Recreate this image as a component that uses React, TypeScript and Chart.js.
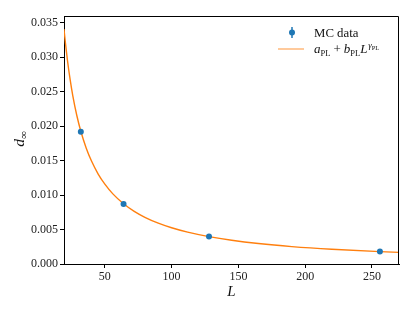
import React, { useEffect, useRef } from 'react';
import { Chart, registerables } from 'chart.js';
Chart.register(...registerables);

// Monte Carlo data
const L_DATA = [32, 64, 128, 256];
const D_DATA = [0.0192, 0.0087, 0.004, 0.0018];
const D_ERR = [0.0002, 0.0001, 0.00005, 0.00003];

// Fitted curve a_PL + b_PL L^gamma_PL
const FIT_L = [19.4, 20.5, 22, 24, 26, 29, 32, 36, 40, 45, 50, 56, 64, 72, 80, 90, 100, 112, 128, 145, 165, 190, 220, 256, 270.3];
const FIT_D = [0.03409, 0.03202, 0.02954, 0.02675, 0.02442, 0.02156, 0.01927, 0.01685, 0.01494, 0.01306, 0.01159, 0.01018, 0.008744, 0.007645, 0.00678, 0.005928, 0.005257, 0.004619, 0.003968, 0.003443, 0.002971, 0.002529, 0.00214, 0.0018, 0.001692];

const X_TICKS = [50, 100, 150, 200, 250];
const Y_TICKS = [0, 0.005, 0.01, 0.015, 0.02, 0.025, 0.03, 0.035];

const SERIF = '"Liberation Serif", "DejaVu Serif", serif';
const BLUE = '#1f77b4';
const ORANGE = '#ff7f0e';

type Part = { t: string; italic?: boolean; size: number; dy?: number; gap?: number };

function drawParts(ctx: CanvasRenderingContext2D, parts: Part[], x: number, y: number) {
  let cx = x;
  for (const p of parts) {
    ctx.font = `${p.italic ? 'italic ' : ''}${p.size}px ${SERIF}`;
    ctx.fillText(p.t, cx, y + (p.dy || 0));
    cx += ctx.measureText(p.t).width + (p.gap || 0);
  }
  return cx - x;
}

function measureParts(ctx: CanvasRenderingContext2D, parts: Part[]) {
  let w = 0;
  for (const p of parts) {
    ctx.font = `${p.italic ? 'italic ' : ''}${p.size}px ${SERIF}`;
    w += ctx.measureText(p.t).width + (p.gap || 0);
  }
  return w;
}

const decorPlugin = {
  id: 'decor',
  beforeDatasetsDraw(chart: any) {
    const ctx = chart.ctx as CanvasRenderingContext2D;
    const xs = chart.scales.x;
    const ys = chart.scales.y;
    ctx.save();
    ctx.strokeStyle = BLUE;
    ctx.lineWidth = 1.5;
    L_DATA.forEach((l, i) => {
      const px = xs.getPixelForValue(l);
      ctx.beginPath();
      ctx.moveTo(px, ys.getPixelForValue(D_DATA[i] - D_ERR[i]));
      ctx.lineTo(px, ys.getPixelForValue(D_DATA[i] + D_ERR[i]));
      ctx.stroke();
    });
    ctx.restore();
  },
  afterDraw(chart: any) {
    const ctx = chart.ctx as CanvasRenderingContext2D;
    const a = chart.chartArea;
    ctx.save();
    // top and right spines
    ctx.strokeStyle = '#000';
    ctx.lineWidth = 1;
    ctx.beginPath();
    ctx.moveTo(a.left, a.top + 0.5);
    ctx.lineTo(a.right - 0.5, a.top + 0.5);
    ctx.lineTo(a.right - 0.5, a.bottom);
    ctx.stroke();

    // legend
    ctx.strokeStyle = BLUE;
    ctx.lineWidth = 1.5;
    ctx.beginPath();
    ctx.moveTo(292, 27);
    ctx.lineTo(292, 38);
    ctx.stroke();
    ctx.fillStyle = BLUE;
    ctx.beginPath();
    ctx.arc(292, 32.5, 3, 0, Math.PI * 2);
    ctx.fill();

    ctx.strokeStyle = 'rgba(255,127,14,0.55)';
    ctx.lineWidth = 1.5;
    ctx.beginPath();
    ctx.moveTo(278, 49);
    ctx.lineTo(304, 49);
    ctx.stroke();

    ctx.fillStyle = '#111';
    ctx.textBaseline = 'alphabetic';
    ctx.textAlign = 'left';
    ctx.font = `12.8px ${SERIF}`;
    ctx.fillText('MC data', 314, 37);

    drawParts(ctx, [
      { t: 'a', italic: true, size: 13 },
      { t: 'PL', size: 8.5, dy: 2.5, gap: 3 },
      { t: '+', size: 13, gap: 3 },
      { t: 'b', italic: true, size: 13 },
      { t: 'PL', size: 8.5, dy: 2.5 },
      { t: 'L', italic: true, size: 13, gap: 0.8 },
      { t: 'γ', italic: true, size: 9, dy: -5 },
      { t: 'PL', size: 6.5, dy: -3.5 },
    ], 314, 53);

    // x axis title
    ctx.font = `italic 15px ${SERIF}`;
    ctx.textAlign = 'center';
    ctx.fillText('L', (a.left + a.right) / 2, 296);

    // y axis title
    ctx.translate(24, 139);
    ctx.rotate(-Math.PI / 2);
    ctx.textAlign = 'left';
    const yParts: Part[] = [
      { t: 'd', italic: true, size: 15.5 },
      { t: '∞', size: 11, dy: 3 },
    ];
    const w = measureParts(ctx, yParts);
    drawParts(ctx, yParts, -w / 2, 0);
    ctx.restore();
  },
};

export default function App() {
  const ref = useRef<HTMLCanvasElement | null>(null);
  useEffect(() => {
    if (!ref.current) return;
    const tickFont = { family: SERIF, size: 12 };
    const chart = new Chart(ref.current, {
      type: 'scatter',
      data: {
        datasets: [
          {
            label: 'MC data',
            data: L_DATA.map((l, i) => ({ x: l, y: D_DATA[i] })),
            backgroundColor: BLUE,
            borderColor: BLUE,
            pointRadius: 3,
            pointHoverRadius: 3,
            borderWidth: 0,
            order: 0,
          },
          {
            label: 'fit',
            data: FIT_L.map((l, i) => ({ x: l, y: FIT_D[i] })),
            showLine: true,
            borderColor: ORANGE,
            borderWidth: 1.4,
            pointRadius: 0,
            cubicInterpolationMode: 'monotone',
            order: 1,
          } as any,
        ],
      },
      options: {
        responsive: false,
        animation: false,
        events: [],
        layout: { padding: { top: 16, right: 16, left: 0, bottom: 0 } },
        plugins: { legend: { display: false }, tooltip: { enabled: false } },
        scales: {
          x: {
            type: 'linear',
            min: 19.4,
            max: 270.3,
            afterBuildTicks: (s: any) => { s.ticks = X_TICKS.map((v) => ({ value: v })); },
            afterFit: (s: any) => { s.height = 47; },
            ticks: {
              font: tickFont,
              color: '#222',
              padding: 2,
              maxRotation: 0,
              autoSkip: false,
              callback: (v: any) => String(v),
            },
            grid: { drawOnChartArea: false, drawTicks: true, tickLength: 4, color: '#000' },
            border: { display: true, color: '#000', width: 1 },
          },
          y: {
            type: 'linear',
            min: 0,
            max: 0.036,
            afterBuildTicks: (s: any) => { s.ticks = Y_TICKS.map((v) => ({ value: v })); },
            afterFit: (s: any) => { s.width = 64; },
            ticks: {
              font: tickFont,
              color: '#222',
              padding: 2,
              autoSkip: false,
              callback: (v: any) => Number(v).toFixed(3),
            },
            grid: { drawOnChartArea: false, drawTicks: true, tickLength: 4, color: '#000' },
            border: { display: true, color: '#000', width: 1 },
          },
        },
      },
      plugins: [decorPlugin],
    });
    return () => chart.destroy();
  }, []);
  return (
    <div style={{ position: 'fixed', left: 0, top: 0, width: 415, height: 311, background: '#fff' }}>
      <canvas ref={ref} width={415} height={311} style={{ display: 'block' }} />
    </div>
  );
}
